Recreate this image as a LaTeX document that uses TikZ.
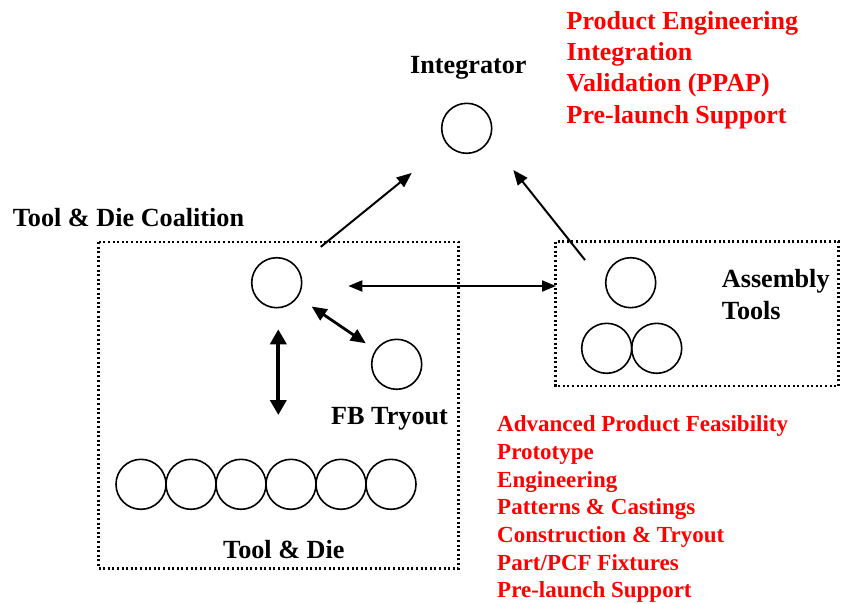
\documentclass[tikz,border=0pt]{standalone}
\usepackage{fontspec}
\setmainfont{Liberation Serif}
\usetikzlibrary{arrows.meta,calc}
\definecolor{redtxt}{RGB}{255,0,0}
\begin{document}
\begin{tikzpicture}[x=1pt,y=-1pt,
  ring/.style={circle,draw,line width=1.6pt,minimum size=50pt,inner sep=0pt},
  frame/.style={line width=2.2pt,dash pattern=on 2pt off 2.6pt},
  lbl/.style={anchor=base west,inner sep=0pt,font=\fontsize{26.2}{30}\selectfont\bfseries},
  redbig/.style={anchor=base west,inner sep=0pt,text=redtxt,font=\fontsize{26}{30}\selectfont\bfseries},
  redsmall/.style={anchor=base west,inner sep=0pt,text=redtxt,font=\fontsize{23}{27.67}\selectfont\bfseries},
  arr/.style={line width=2pt,-{Triangle[length=15pt,width=12pt]}},
  dbl/.style={line width=2pt,{Triangle[length=14pt,width=11pt]}-{Triangle[length=14pt,width=11pt]}},
  dblm/.style={line width=2.8pt,{Triangle[length=15pt,width=13pt]}-{Triangle[length=15pt,width=13pt]}},
  dblt/.style={line width=4.2pt,{Triangle[length=15pt,width=16pt]}-{Triangle[length=15pt,width=16pt]}}]
\useasboundingbox (0,0) rectangle (843,603);

% frames
\draw[frame] (98.5,242) rectangle (458.5,568.5);
\draw[frame] (555.5,241.5) rectangle (838.5,386);

% circles
\node[ring] (ci) at (466.7,128.3) {};
\node[ring] (c1) at (276.7,282.7) {};
\node[ring] (fb) at (396.7,364.3) {};
\node[ring] (a1) at (630.7,282.7) {};
\node[ring] (a2) at (606.7,348.3) {};
\node[ring] (a3) at (656.7,348.3) {};
\foreach \i/\x in {1/141,2/191,3/241,4/291,5/341,6/391}
  \node[ring] (t\i) at (\x,484.3) {};

% labels
\node[lbl] (lint) at (410,73.3) {Integrator};
\node[lbl] (lcoal) at (12.7,226.7) {Tool \& Die Coalition};
\node[lbl] (lasm) at (721.7,287) {Assembly};
\node[lbl] (ltools) at (721.7,319) {Tools};
\node[lbl] (lfb) at (331,424) {FB Tryout};
\node[lbl] (ltd) at (223,558.3) {Tool \& Die};

\node[redbig] (r1) at (566.5,29.3) {Product Engineering};
\node[redbig] (r2) at (566.5,60.6) {Integration};
\node[redbig] (r3) at (566.5,91.9) {Validation (PPAP)};
\node[redbig] (r4) at (566.5,123.2) {Pre-launch Support};

\node[redsmall] (s1) at (497,431.7) {Advanced Product Feasibility};
\node[redsmall] (s2) at (497,459.4) {Prototype};
\node[redsmall] (s3) at (497,487.0) {Engineering};
\node[redsmall] (s4) at (497,514.7) {Patterns \& Castings};
\node[redsmall] (s5) at (497,542.4) {Construction \& Tryout};
\node[redsmall] (s6) at (497,570.0) {Part/PCF Fixtures};
\node[redsmall] (s7) at (497,597.7) {Pre-launch Support};

% connectors
\draw[arr, shorten <=31pt, shorten >=45pt] (c1) -- (ci);
\coordinate (a1s) at ($(a1)+(-45.7,-22.7)$);
\coordinate (cie) at ($(ci)+(46.6,41.7)$);
\draw[arr] (a1s) -- (cie);
\coordinate (hl) at ($(c1)+(71.6,3.3)$);
\coordinate (hr) at ($(a1)+(-74.7,3.3)$);
\draw[dbl] (hl) -- (hr);
\draw[dblm, shorten <=16.5pt, shorten >=11.6pt] (c1) -- (fb);
\coordinate (vt) at ($(c1)+(1.6,46.6)$);
\coordinate (vb) at ($(c1)+(1.6,132.3)$);
\draw[dblt] (vt) -- (vb);
\end{tikzpicture}
\end{document}
